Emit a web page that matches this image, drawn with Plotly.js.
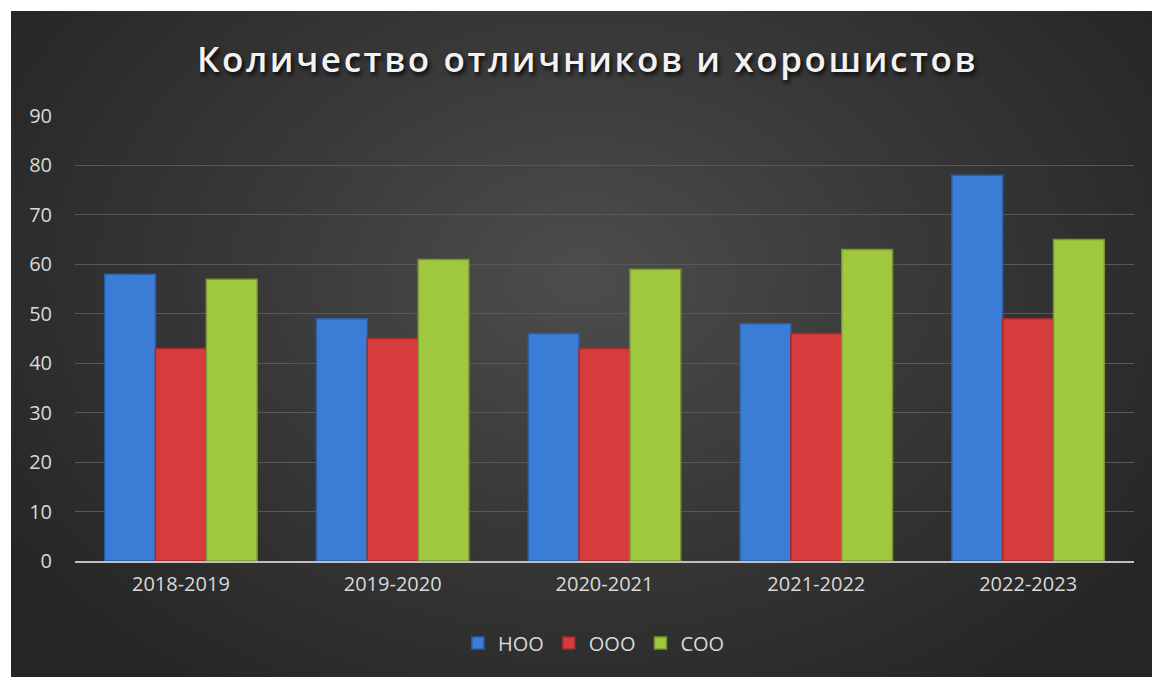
<!DOCTYPE html>
<html>
<head>
<meta charset="utf-8">
<script src="https://cdn.plot.ly/plotly-3.0.1.min.js"></script>
<style>
  html, body { margin:0; padding:0; background:#ffffff; width:1152px; height:677px; overflow:hidden; }
  #panel { position:absolute; left:11px; top:11px; width:1141px; height:666px;
    background: radial-gradient(ellipse 60% 75% at 50% 40%, #4d4d4d 0%, #3a3a3a 45%, #262626 100%); }
  #chart { position:absolute; left:0; top:0; width:1152px; height:677px; }
  .gtitle { text-shadow: 2px 3px 4px rgba(0,0,0,0.85); letter-spacing: 2.6px; }
</style>
</head>
<body>
<div id="panel"></div>
<div id="chart"></div>
<script>
const categories = ["2018-2019", "2019-2020", "2020-2021", "2021-2022", "2022-2023"];
const seriesNames = ["НОО", "ООО", "СОО"];
const nooValues = [58, 49, 46, 48, 78];
const oooValues = [43, 45, 43, 46, 49];
const cooValues = [57, 61, 59, 63, 65];
const yTicks = [0, 10, 20, 30, 40, 50, 60, 70, 80, 90];

const fills = ["#3b7dd6", "#d63c3c", "#9fc83f"];
const edges = ["#2a5ea6", "#a52a2a", "#76952c"];
const valuesList = [nooValues, oooValues, cooValues];

const traces = valuesList.map((vals, i) => ({
  type: "bar",
  name: seriesNames[i],
  x: categories,
  y: vals,
  marker: { color: fills[i], line: { color: edges[i], width: 1.5 } },
  hoverinfo: "x+y+name"
}));

const layout = {
  width: 1152, height: 677,
  paper_bgcolor: "rgba(0,0,0,0)",
  plot_bgcolor: "rgba(0,0,0,0)",
  margin: { l: 75, r: 18, t: 116, b: 116 },
  barmode: "group",
  bargap: 0.28,
  bargroupgap: 0,
  title: {
    text: "Количество отличников и хорошистов",
    font: { family: "Open Sans, sans-serif", size: 35, color: "#f2f2f2", weight: 600 },
    x: 0.51, xanchor: "center",
    y: 1 - 60/677, yref: "container", yanchor: "middle"
  },
  xaxis: {
    type: "category",
    showgrid: false,
    showline: true, linecolor: "#bfbfbf", linewidth: 2,
    ticks: "",
    ticklabelstandoff: 4,
    tickfont: { family: "Open Sans, sans-serif", size: 20, color: "#d9d9d9" },
    zeroline: false
  },
  yaxis: {
    range: [0, 90],
    tickvals: yTicks,
    ticktext: yTicks.map(String),
    showgrid: true, gridcolor: "#585858", gridwidth: 1,
    zeroline: false, showline: false,
    ticks: "", ticklabelstandoff: 22,
    tickfont: { family: "Open Sans, sans-serif", size: 20, color: "#d9d9d9" }
  },
  showlegend: true,
  legend: {
    orientation: "h",
    x: 0.49, xanchor: "center",
    y: -0.184, yanchor: "middle",
    font: { family: "Open Sans, sans-serif", size: 20, color: "#d9d9d9" },
    itemwidth: 30,
    bgcolor: "rgba(0,0,0,0)"
  }
};

Plotly.newPlot("chart", traces, layout, { displayModeBar: false, staticPlot: true });
</script>
</body>
</html>
